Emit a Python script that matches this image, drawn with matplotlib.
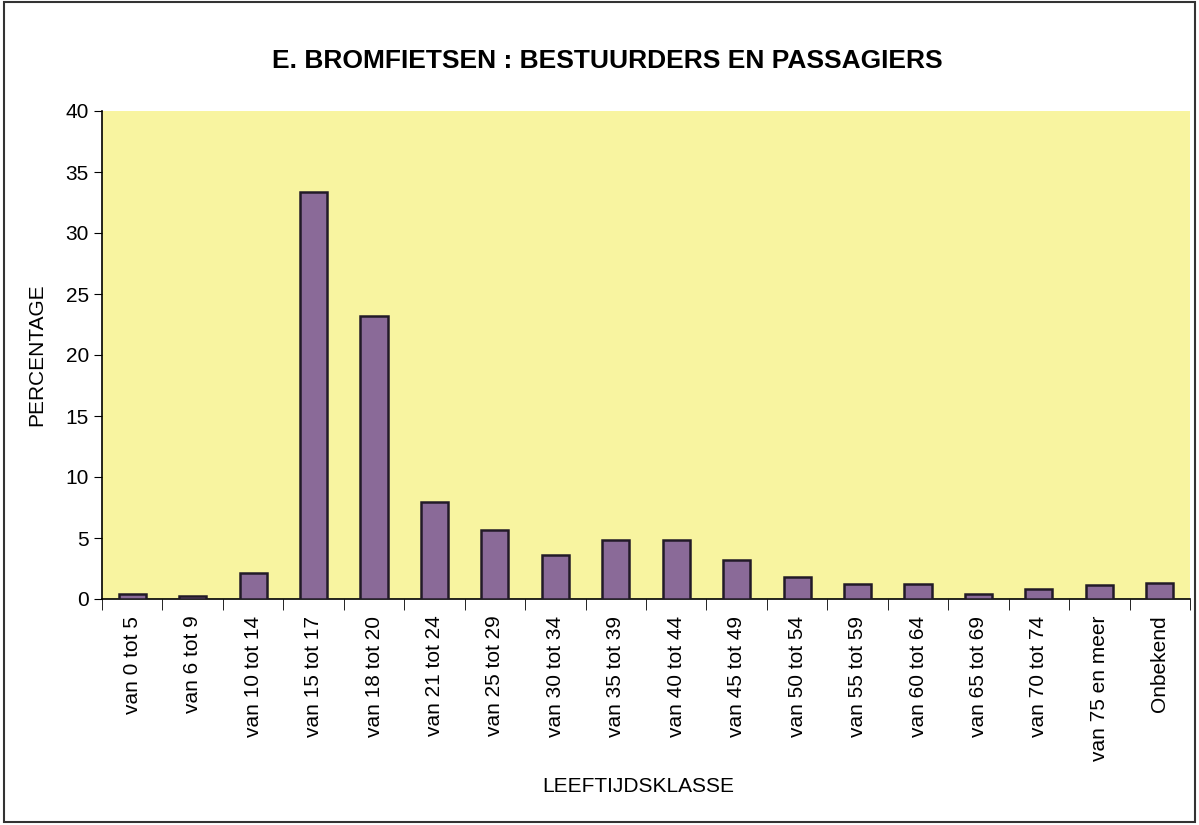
import matplotlib.pyplot as plt
import numpy as np

# data
klassen = ["van 0 tot 5", "van 6 tot 9", "van 10 tot 14", "van 15 tot 17", "van 18 tot 20",
           "van 21 tot 24", "van 25 tot 29", "van 30 tot 34", "van 35 tot 39", "van 40 tot 44",
           "van 45 tot 49", "van 50 tot 54", "van 55 tot 59", "van 60 tot 64", "van 65 tot 69",
           "van 70 tot 74", "van 75 en meer", "Onbekend"]
percentage = [0.4, 0.25, 2.1, 33.4, 23.2, 7.95, 5.65, 3.6, 4.85, 4.85,
              3.2, 1.8, 1.25, 1.25, 0.45, 0.8, 1.15, 1.3]
yticks = [0, 5, 10, 15, 20, 25, 30, 35, 40]

plt.rcParams['font.family'] = ['Liberation Sans', 'DejaVu Sans']

fig = plt.figure(figsize=(11.99, 8.25), dpi=100)
fig.patch.set_facecolor('white')
ax = fig.add_axes([102/1199, 1-599/825, (1190-102)/1199, (599-111)/825])
ax.set_facecolor('#f8f4a0')

x = np.arange(len(klassen))
ax.bar(x, percentage, width=0.45, color='#8a6a98', edgecolor='#221a28', linewidth=1.8, zorder=3)

ax.set_xlim(-0.5, len(klassen) - 0.5)
ax.set_ylim(0, 40)
ax.set_yticks(yticks)
ax.tick_params(axis='y', labelsize=15, length=6, direction='out')

ax.set_xticks(x)
ax.set_xticklabels(klassen, rotation=90, fontsize=15)
ax.tick_params(axis='x', length=0, pad=12)
ax.set_xticks(np.arange(len(klassen) + 1) - 0.5, minor=True)
ax.tick_params(axis='x', which='minor', length=8, direction='out')

for s in ['top', 'right']:
    ax.spines[s].set_visible(False)
ax.spines['left'].set_linewidth(1.2)
ax.spines['bottom'].set_linewidth(1.2)

ax.set_ylabel('PERCENTAGE', fontsize=15, labelpad=14)
fig.text(638/1199, 1-787/825, 'LEEFTIJDSKLASSE', fontsize=15, ha='center', va='center')
fig.text(607/1199, 1-61/825, 'E. BROMFIETSEN : BESTUURDERS EN PASSAGIERS', fontsize=19,
         fontweight='bold', ha='center', va='center')

# outer frame
fig.patches.append(plt.Rectangle((0.003, 0.004), 0.994, 0.993, transform=fig.transFigure,
                                 fill=False, edgecolor='#333333', linewidth=1.5))

fig.savefig('out.png', dpi=100)
